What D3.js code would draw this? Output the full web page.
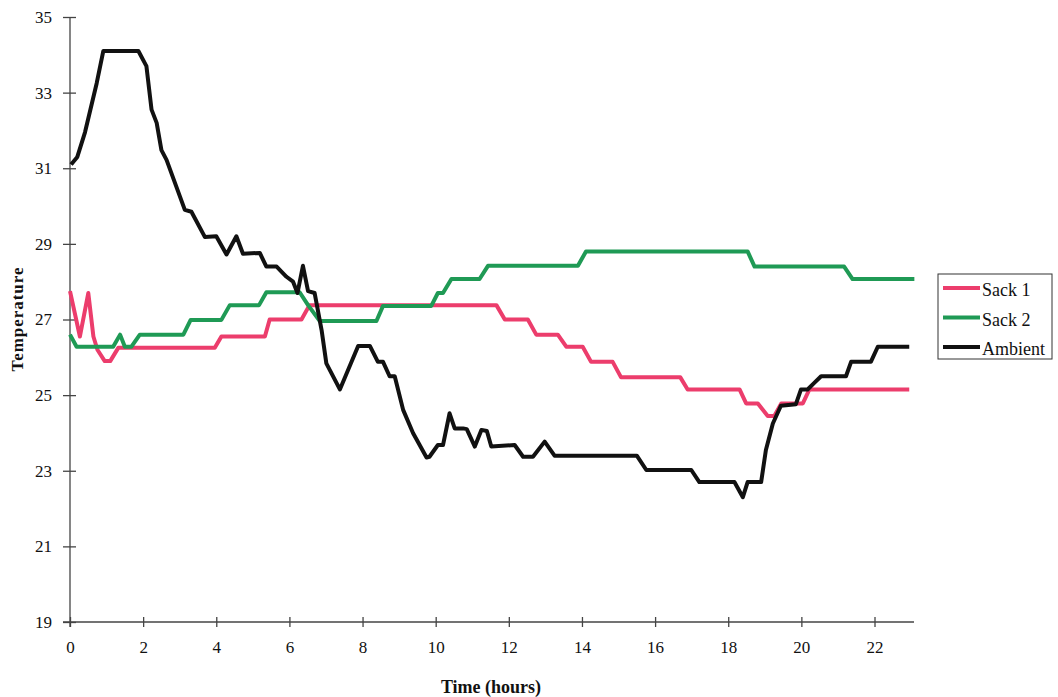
<!DOCTYPE html>
<html>
<head>
<meta charset="utf-8">
<script src="https://cdn.jsdelivr.net/npm/d3@7"></script>
<style>
  body { margin: 0; background: #fff; }
  svg { font-family: "Liberation Serif", "Times New Roman", serif; }
</style>
</head>
<body>
<svg id="chart"></svg>
<script>
const width = 1058;
const height = 697;

// [hours, temperature]
const sack1 = [[0.0,27.75],[0.27,26.55],[0.5,27.7],[0.64,26.55],[0.75,26.2],[0.95,25.9],[1.1,25.9],[1.32,26.25],
  [3.96,26.25],[4.14,26.55],[5.33,26.55],[5.46,27.0],[6.33,27.0],[6.55,27.38],[11.66,27.38],[11.89,27.0],
  [12.52,27.0],[12.75,26.6],[13.34,26.6],[13.57,26.28],[14.02,26.28],[14.25,25.88],[14.84,25.88],[15.07,25.47],
  [16.69,25.47],[16.89,25.15],[18.31,25.15],[18.49,24.78],[18.81,24.78],[19.08,24.45],[19.26,24.45],[19.45,24.78],
  [20.04,24.78],[20.22,25.15],[22.95,25.15]];

const sack2 = [[0.0,26.6],[0.18,26.28],[1.18,26.28],[1.37,26.6],[1.5,26.28],[1.68,26.28],[1.91,26.6],[3.1,26.6],
  [3.3,26.99],[4.14,26.99],[4.37,27.38],[5.17,27.38],[5.37,27.72],[6.28,27.72],[6.51,27.38],[6.83,26.96],
  [8.38,26.96],[8.56,27.36],[9.88,27.36],[10.06,27.7],[10.2,27.7],[10.43,28.07],[11.2,28.07],[11.43,28.42],
  [13.89,28.42],[14.11,28.8],[18.53,28.8],[18.72,28.4],[21.17,28.4],[21.4,28.07],[23.09,28.07]];

const ambient = [[0.03,31.1],[0.2,31.3],[0.41,31.95],[0.73,33.25],[0.91,34.1],[1.87,34.1],[2.09,33.7],[2.23,32.55],
  [2.37,32.2],[2.5,31.48],[2.64,31.22],[3.14,29.9],[3.32,29.85],[3.69,29.18],[4.0,29.2],[4.28,28.72],[4.55,29.2],
  [4.73,28.74],[5.19,28.76],[5.37,28.4],[5.65,28.4],[5.92,28.13],[6.1,28.0],[6.22,27.7],[6.37,28.42],[6.51,27.75],
  [6.69,27.7],[6.88,26.72],[7.01,25.84],[7.38,25.15],[7.88,26.3],[8.2,26.3],[8.42,25.88],[8.56,25.88],[8.74,25.5],
  [8.88,25.5],[9.11,24.61],[9.38,24.0],[9.75,23.35],[9.83,23.37],[10.06,23.68],[10.2,23.68],[10.38,24.52],
  [10.52,24.12],[10.75,24.12],[10.85,24.1],[11.07,23.64],[11.25,24.08],[11.4,24.05],[11.52,23.64],[12.16,23.68],
  [12.39,23.37],[12.66,23.37],[12.98,23.77],[13.25,23.4],[15.5,23.4],[15.76,23.02],[16.99,23.02],[17.21,22.7],
  [18.17,22.7],[18.4,22.3],[18.53,22.7],[18.9,22.7],[19.03,23.55],[19.22,24.25],[19.44,24.72],[19.85,24.76],
  [19.99,25.15],[20.17,25.15],[20.36,25.33],[20.54,25.5],[21.22,25.5],[21.36,25.88],[21.9,25.88],[22.09,26.28],
  [22.95,26.28]];

const seriesNames = ["Sack 1", "Sack 2", "Ambient"];
const seriesColors = ["#ec3d6c", "#1f9a55", "#111111"];
const xTicks = [0, 2, 4, 6, 8, 10, 12, 14, 16, 18, 20, 22];
const yTicks = [19, 21, 23, 25, 27, 29, 31, 33, 35];

const svg = d3.select("#chart").attr("width", width).attr("height", height);

const x = d3.scaleLinear().domain([0, 23.08]).range([70, 914]);
const y = d3.scaleLinear().domain([19, 35]).range([622, 17]);

// axes
const xAxis = svg.append("g")
  .attr("transform", `translate(0,${y(19)})`)
  .call(d3.axisBottom(x).tickValues(xTicks).tickSize(5).tickPadding(14).tickFormat(d3.format("d")));
xAxis.select(".domain").attr("d", `M${x(0) - 7},0H${x(23.08)}`);
xAxis.selectAll(".tick line").attr("y1", -5).attr("y2", 5);

const yAxis = svg.append("g")
  .attr("transform", `translate(${x(0)},0)`)
  .call(d3.axisLeft(y).tickValues(yTicks).tickSize(6).tickPadding(12).tickFormat(d3.format("d")));
yAxis.select(".domain").attr("d", `M0,${y(35)}V${y(19) + 5}`);
yAxis.selectAll(".tick line").attr("x1", -7).attr("x2", 6);

svg.selectAll(".domain, .tick line").attr("stroke", "#444").attr("stroke-width", 1.3);
svg.selectAll(".tick text")
  .attr("fill", "#111")
  .style("font-size", "17px")
  .style("font-family", "Liberation Serif, serif");

svg.append("text")
  .attr("x", 491).attr("y", 693)
  .attr("text-anchor", "middle")
  .attr("fill", "#111")
  .style("font-size", "18px").style("font-weight", "bold")
  .text("Time (hours)");

svg.append("text")
  .attr("transform", `translate(23,${y(27)}) rotate(-90)`)
  .attr("text-anchor", "middle")
  .attr("fill", "#111")
  .attr("textLength", 104)
  .style("font-size", "17px").style("font-weight", "bold")
  .text("Temperature");

// lines
const line = d3.line().x(d => x(d[0])).y(d => y(d[1]));
[sack1, sack2, ambient].forEach((data, i) => {
  svg.append("path")
    .datum(data)
    .attr("fill", "none")
    .attr("stroke", seriesColors[i])
    .attr("stroke-width", 4)
    .attr("stroke-linejoin", "round")
    .attr("d", line);
});

// legend
const legend = svg.append("g").attr("transform", "translate(938,274)");
legend.append("rect")
  .attr("width", 114).attr("height", 85)
  .attr("fill", "#fff").attr("stroke", "#333").attr("stroke-width", 1);
seriesNames.forEach((name, i) => {
  const g = legend.append("g").attr("transform", `translate(0,${14 + i * 29.5})`);
  g.append("line")
    .attr("x1", 5).attr("x2", 42)
    .attr("stroke", seriesColors[i]).attr("stroke-width", 4);
  g.append("text")
    .attr("x", 44).attr("y", 8)
    .attr("fill", "#111")
    .style("font-size", "18px")
    .text(name);
});
</script>
</body>
</html>
